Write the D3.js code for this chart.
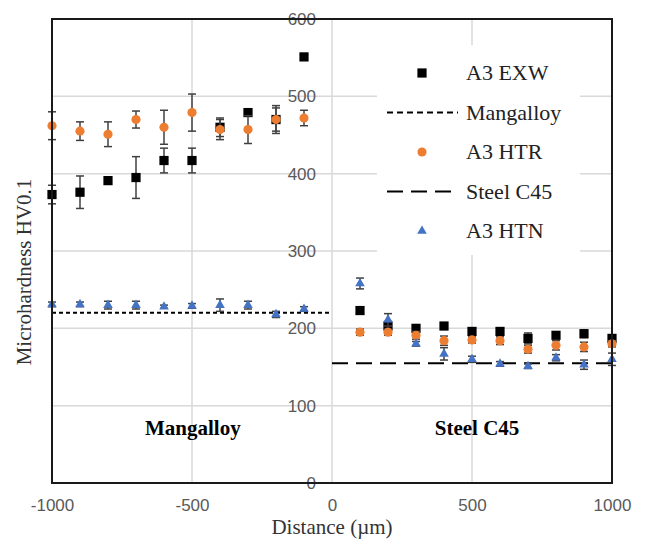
<!DOCTYPE html>
<html>

<head>
  <meta charset="utf-8">
  <title>Microhardness</title>
  <style>
    body { margin: 0; background: #fff; }
  </style>
</head>

<body>
  <script src="https://cdn.jsdelivr.net/npm/d3@7"></script>
  <script type="text/javascript">
    // distance positions (um)
    var distLeft = [-1000, -900, -800, -700, -600, -500, -400, -300, -200, -100];
    var distRight = [100, 200, 300, 400, 500, 600, 700, 800, 900, 1000];
    var distance = distLeft.concat(distRight);

    // A3 EXW
    var exwValues = [373, 376, 391, 395, 417, 417, 460, 479, 470, 551,
                     223, 203, 200, 203, 196, 196, 187, 191, 193, 187];
    var exwErrors = [12, 21, 3, 27, 16, 16, 12, 3, 18, 3,
                     4, 6, 4, 4, 4, 4, 7, 3, 5, 3];
    // A3 HTR
    var htrValues = [462, 455, 451, 470, 460, 479, 457, 457, 470, 472,
                     195, 195, 191, 184, 185, 184, 173, 178, 176, 180];
    var htrErrors = [18, 12, 16, 11, 22, 24, 13, 18, 15, 10,
                     4, 4, 5, 6, 4, 5, 5, 6, 6, 4];
    // A3 HTN
    var htnValues = [231, 231, 230, 230, 228, 229, 230, 230, 218, 225,
                     258, 211, 180, 167, 160, 154, 151, 162, 153, 160];
    var htnErrors = [3, 3, 5, 5, 2, 3, 8, 5, 4, 3,
                     7, 8, 3, 8, 4, 3, 3, 4, 6, 8];

    // base material reference levels
    var mangalloyLevel = 220;
    var steelLevel = 155;

    var xTicks = [-1000, -500, 0, 500, 1000];
    var yTicks = [0, 100, 200, 300, 400, 500, 600];

    var width = 645;
    var height = 543;
    var margin = { top: 19, right: 33, bottom: 60, left: 52 };

    var svg = d3.select('body')
      .append("svg")
      .attr("width", width)
      .attr("height", height)
      .style("font-family", "'Liberation Serif', 'Times New Roman', serif");

    var x = d3.scaleLinear().domain([-1000, 1000]).range([margin.left, width - margin.right]);
    var y = d3.scaleLinear().domain([0, 600]).range([height - margin.bottom, margin.top]);

    // gridlines
    svg.append("g").selectAll("line").data(yTicks.slice(1, 6)).enter().append("line")
      .attr("x1", x(-1000)).attr("x2", x(1000))
      .attr("y1", y).attr("y2", y)
      .attr("stroke", "#d9d9d9").attr("stroke-width", 1.5);
    svg.append("g").selectAll("line").data([-500, 0, 500]).enter().append("line")
      .attr("x1", x).attr("x2", x)
      .attr("y1", y(0)).attr("y2", y(600))
      .attr("stroke", "#d9d9d9").attr("stroke-width", 1.5);

    function plain(d) { return String(d); }

    // x axis labels
    var xAxis = d3.axisBottom(x).tickValues(xTicks).tickFormat(plain).tickSize(0).tickPadding(16);
    var gx = svg.append("g").attr("transform", "translate(0," + y(0) + ")").call(xAxis);
    gx.select(".domain").remove();
    gx.selectAll("text")
      .style("font-family", "'Liberation Sans', Arial, sans-serif")
      .style("font-size", "17px").attr("fill", "#595959");

    // y axis labels sit at x = 0
    var yAxis = d3.axisLeft(y).tickValues(yTicks).tickFormat(plain).tickSize(0).tickPadding(16);
    var gy = svg.append("g").attr("transform", "translate(" + x(0) + ",0)").call(yAxis);
    gy.select(".domain").remove();
    gy.selectAll("text")
      .style("font-family", "'Liberation Sans', Arial, sans-serif")
      .style("font-size", "17px").attr("fill", "#595959");

    // region labels
    svg.append("text").attr("x", x(-497)).attr("y", y(62))
      .attr("text-anchor", "middle").attr("font-weight", "bold").attr("font-size", 21)
      .text("Mangalloy");
    svg.append("text").attr("x", x(518)).attr("y", y(62))
      .attr("text-anchor", "middle").attr("font-weight", "bold").attr("font-size", 21)
      .text("Steel C45");

    // reference lines
    svg.append("line")
      .attr("x1", x(-1000)).attr("x2", x(0))
      .attr("y1", y(mangalloyLevel)).attr("y2", y(mangalloyLevel))
      .attr("stroke", "#000").attr("stroke-width", 2).attr("stroke-dasharray", "4,3");
    svg.append("line")
      .attr("x1", x(0)).attr("x2", x(1000))
      .attr("y1", y(steelLevel)).attr("y2", y(steelLevel))
      .attr("stroke", "#000").attr("stroke-width", 2).attr("stroke-dasharray", "16,8");

    function series(values, errors) {
      return distance.map(function(d, i) {
        return { x: d, v: values[i], e: errors[i] };
      });
    }

    function errorBars(data) {
      var g = svg.append("g").attr("stroke", "#404040").attr("stroke-width", 1.5);
      g.selectAll(".v").data(data).enter().append("line")
        .attr("x1", function(d) { return x(d.x); })
        .attr("x2", function(d) { return x(d.x); })
        .attr("y1", function(d) { return y(d.v - d.e); })
        .attr("y2", function(d) { return y(d.v + d.e); });
      [-1, 1].forEach(function(s) {
        g.selectAll(".c" + s).data(data).enter().append("line")
          .attr("x1", function(d) { return x(d.x) - 4; })
          .attr("x2", function(d) { return x(d.x) + 4; })
          .attr("y1", function(d) { return y(d.v + s * d.e); })
          .attr("y2", function(d) { return y(d.v + s * d.e); });
      });
    }

    var exw = series(exwValues, exwErrors);
    var htr = series(htrValues, htrErrors);
    var htn = series(htnValues, htnErrors);

    var squareSym = d3.symbol().type(d3.symbolSquare).size(85);
    var circleSym = d3.symbol().type(d3.symbolCircle).size(66);
    var triSym = d3.symbol().type(d3.symbolTriangle).size(40);

    errorBars(exw);
    svg.append("g").selectAll("path").data(exw).enter().append("path")
      .attr("d", squareSym)
      .attr("transform", function(d) { return "translate(" + x(d.x) + "," + y(d.v) + ")"; })
      .attr("fill", "#000");

    errorBars(htr);
    svg.append("g").selectAll("path").data(htr).enter().append("path")
      .attr("d", circleSym)
      .attr("transform", function(d) { return "translate(" + x(d.x) + "," + y(d.v) + ")"; })
      .attr("fill", "#ED7D31");

    errorBars(htn);
    svg.append("g").selectAll("path").data(htn).enter().append("path")
      .attr("d", triSym)
      .attr("transform", function(d) { return "translate(" + x(d.x) + "," + y(d.v) + ")"; })
      .attr("fill", "#4472C4");

    // plot frame
    svg.append("rect")
      .attr("x", x(-1000)).attr("y", y(600))
      .attr("width", x(1000) - x(-1000)).attr("height", y(0) - y(600))
      .attr("fill", "none").attr("stroke", "#1a1a1a").attr("stroke-width", 2);

    // legend
    var legendItems = [
      { name: "A3 EXW", kind: "square" },
      { name: "Mangalloy", kind: "dotted" },
      { name: "A3 HTR", kind: "circle" },
      { name: "Steel C45", kind: "dashed" },
      { name: "A3 HTN", kind: "triangle" }
    ];
    var legend = svg.append("g");
    legend.append("rect")
      .attr("x", 377).attr("y", 45).attr("width", 203).attr("height", 210)
      .attr("fill", "#fff");
    var rows = legend.selectAll("g.row").data(legendItems).enter().append("g")
      .attr("transform", function(d, i) { return "translate(0," + (73 + i * 39.5) + ")"; });
    rows.each(function(d) {
      var r = d3.select(this);
      if (d.kind == "square") {
        r.append("path").attr("d", squareSym).attr("transform", "translate(422,0)").attr("fill", "#000");
      } else if (d.kind == "circle") {
        r.append("path").attr("d", circleSym).attr("transform", "translate(422,0)").attr("fill", "#ED7D31");
      } else if (d.kind == "triangle") {
        r.append("path").attr("d", triSym).attr("transform", "translate(422,0)").attr("fill", "#4472C4");
      } else {
        r.append("line").attr("x1", 387).attr("x2", 458).attr("y1", 0).attr("y2", 0)
          .attr("stroke", "#000").attr("stroke-width", 2)
          .attr("stroke-dasharray", d.kind == "dotted" ? "6,4" : "16,8");
      }
      r.append("text").attr("x", 466).attr("y", 7).attr("font-size", 22)
        .attr("fill", "#222").text(d.name);
    });

    // axis titles
    svg.append("text")
      .attr("x", x(0)).attr("y", 534)
      .attr("text-anchor", "middle").attr("font-size", 21).attr("fill", "#333")
      .text("Distance (\u00b5m)");
    svg.append("text")
      .attr("transform", "translate(31," + 272 + ") rotate(-90)")
      .attr("text-anchor", "middle").attr("font-size", 21).attr("fill", "#333")
      .text("Microhardness HV0.1");
  </script>
</body>

</html>
